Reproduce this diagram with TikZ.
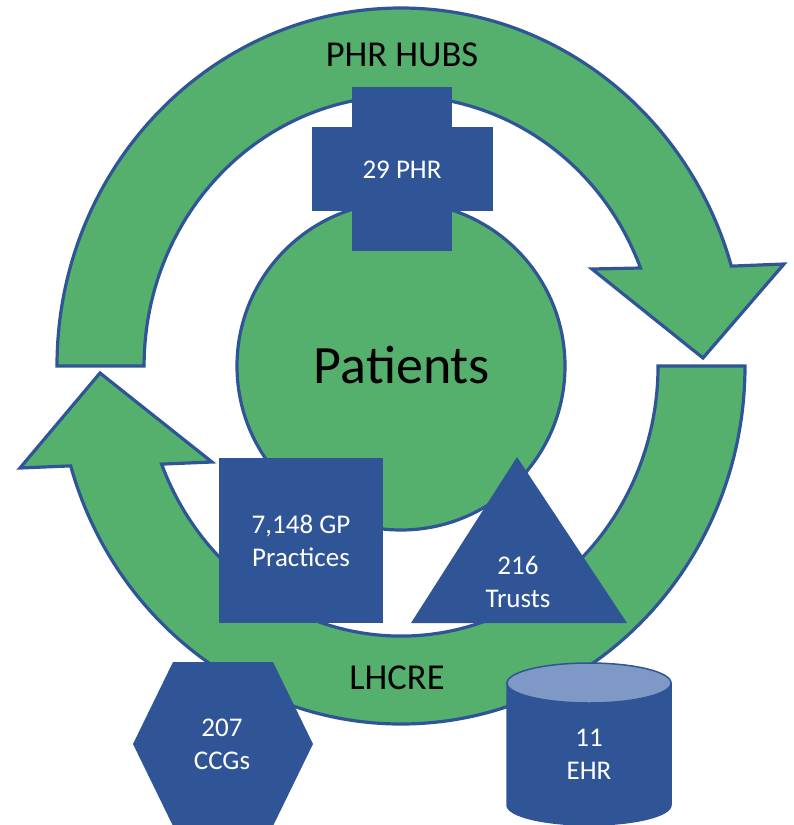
\documentclass[tikz,border=0pt]{standalone}
\usepackage{fontspec}
\setmainfont{Carlito}
\definecolor{ringgreen}{RGB}{85,176,110}
\definecolor{deepblue}{RGB}{47,85,151}
\definecolor{paleblue}{RGB}{127,153,198}

\begin{document}
\begin{tikzpicture}[x=1pt,y=-1pt,
  ring/.style={fill=ringgreen,draw=deepblue,line width=3.2pt,line join=miter},
  block/.style={fill=deepblue,draw=none},
  darklabel/.style={text=black,font=\fontsize{36.5}{43}\selectfont,inner sep=0pt,anchor=base},
  biglabel/.style={text=black,font=\fontsize{54}{60}\selectfont,inner sep=0pt,anchor=base},
  whitelabel/.style={text=white,align=center,font=\fontsize{27}{32.5}\selectfont,inner sep=0pt,anchor=base}]

\useasboundingbox (0,0) rectangle (793,825);

% upper curved arrow (clockwise, head on the right)
\draw[ring] (57,366) arc[start angle=180,end angle=343.8,x radius=344,y radius=358]
  -- (784,264) -- (703,358) -- (592,269) -- (640.5,268)
  arc[start angle=338.7,end angle=180,x radius=257,y radius=270] -- cycle;

% lower curved arrow (clockwise, head on the left)
\draw[ring] (745,366) arc[start angle=0,end angle=163.8,x radius=344,y radius=358]
  -- (20,468) -- (100,373) -- (212,462) -- (161.6,464.1)
  arc[start angle=158.7,end angle=0,x radius=257,y radius=270] -- cycle;

% centre disc
\draw[ring] (401,366) circle[radius=164];

% cross
\fill[block] (352,87) rectangle (452,251);
\fill[block] (312,127) rectangle (493,211);

% square
\fill[block] (219,458) rectangle (383,623);

% triangle
\fill[block] (517,457) -- (627,623) -- (411,623) -- cycle;

% hexagon
\fill[block] (173,662) -- (273,662) -- (313,744) -- (273,826) -- (173,826) -- (133,744) -- cycle;

% cylinder
\filldraw[fill=deepblue,draw=deepblue,line width=1.5pt] (507,683) -- (507,805)
  arc[start angle=180,end angle=0,x radius=82,y radius=20] -- (671,683) -- cycle;
\filldraw[fill=paleblue,draw=deepblue,line width=1.5pt] (589,683) ellipse[x radius=82,y radius=20];

% labels (multi-line labels are anchored on their last line)
\node[darklabel] (hubs) at (402,66) {PHR HUBS};
\node[darklabel] (lhcre) at (397,689) {LHCRE};
\node[biglabel] (patients) at (402,383) {Patients};
\node[whitelabel] (phr) at (402,178) {29 PHR};
\node[whitelabel] (gp) at (301,566) {7,148 GP\\Practices};
\node[whitelabel] (trusts) at (518,607) {216\\Trusts};
\node[whitelabel] (ccg) at (222,769) {207\\CCGs};
\node[whitelabel] (ehr) at (589,779) {11\\EHR};
\end{tikzpicture}
\end{document}
